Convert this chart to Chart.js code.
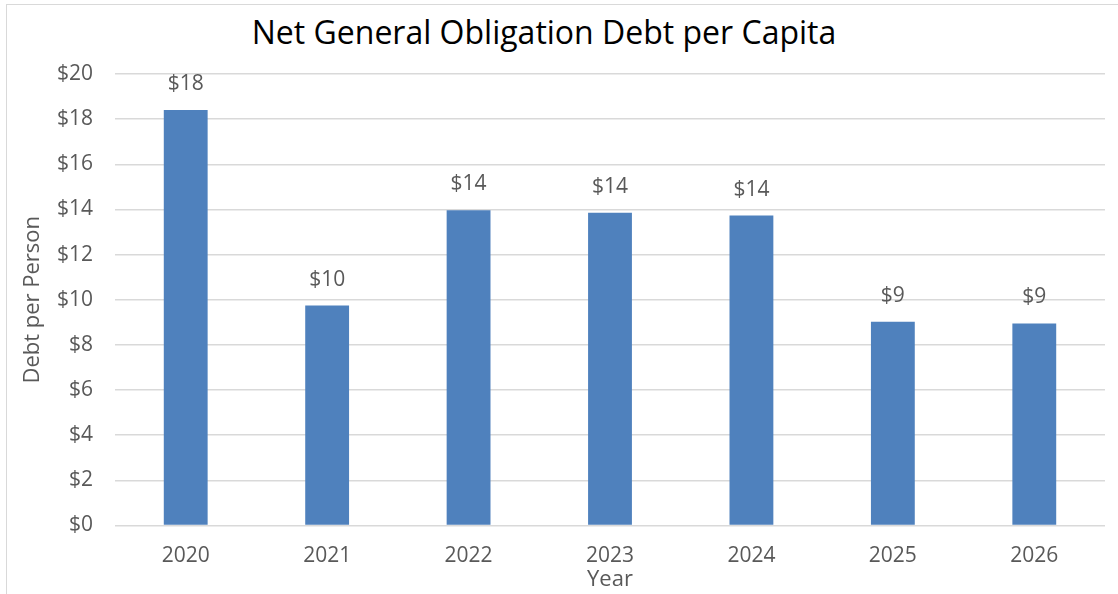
<!DOCTYPE html>
<html>
<head>
<meta charset="utf-8">
<script src="https://cdn.jsdelivr.net/npm/chart.js@4.4.1/dist/chart.umd.min.js"></script>
<style>
  html, body { margin: 0; padding: 0; background: #fff; }
  #wrap { position: relative; width: 1118px; height: 594px; overflow: hidden; }
  #frame { position: absolute; left: 6px; top: 4px; width: 1200px; height: 700px;
           border-left: 1.5px solid #d9d9d9; border-top: 1.5px solid #d9d9d9; }
  #title { position: absolute; left: 0; width: 1088px; top: 10px; text-align: center;
           font-family: "Open Sans", sans-serif; font-size: 32px; color: #000; }
  canvas { position: absolute; left: 0; top: 0; }
</style>
</head>
<body>
<div id="wrap">
  <div id="frame"></div>
  <div id="title">Net General Obligation Debt per Capita</div>
  <canvas id="myChart" width="1118" height="594"></canvas>
</div>
<script>
// Data
var years = ["2020", "2021", "2022", "2023", "2024", "2025", "2026"];
var debtPerPerson = [18.40, 9.74, 13.97, 13.85, 13.73, 9.03, 8.95];
var yTicks = [0, 2, 4, 6, 8, 10, 12, 14, 16, 18, 20];

var textColor = '#595959';
var fontFamily = '"Open Sans", sans-serif';

// draws "$18" etc above each bar
var barLabels = {
  id: 'barLabels',
  afterDatasetsDraw: function(chart) {
    var ctx = chart.ctx;
    var meta = chart.getDatasetMeta(0);
    ctx.save();
    ctx.font = '21px ' + fontFamily;
    ctx.fillStyle = textColor;
    ctx.textAlign = 'center';
    ctx.textBaseline = 'middle';
    meta.data.forEach(function(bar, i) {
      ctx.fillText('$' + Math.round(debtPerPerson[i]), bar.x, bar.y - 26);
    });
    ctx.restore();
  }
};

var ctx = document.getElementById('myChart').getContext('2d');

var myChart = new Chart(ctx, {
  type: 'bar',
  data: {
    labels: years,
    datasets: [{
      label: 'Debt per Person',
      data: debtPerPerson,
      backgroundColor: '#4f81bd',
      borderWidth: 0,
      barPercentage: 0.31,
      categoryPercentage: 1
    }]
  },
  options: {
    responsive: false,
    animation: false,
    layout: {
      padding: { top: 74, right: 13, bottom: 1, left: 0 }
    },
    plugins: {
      legend: { display: false },
      tooltip: { enabled: false }
    },
    scales: {
      x: {
        afterFit: function(scale) { scale.height = 67.5; },
        grid: { display: false, drawTicks: false },
        border: { display: false },
        ticks: { color: textColor, font: { family: fontFamily, size: 21 }, padding: 18 },
        title: {
          display: true,
          text: 'Year',
          color: textColor,
          font: { family: fontFamily, size: 22 },
          padding: { top: 0, bottom: 0 }
        }
      },
      y: {
        min: 0,
        max: 20,
        afterBuildTicks: function(scale) {
          scale.ticks = yTicks.map(function(v) { return { value: v }; });
        },
        afterFit: function(scale) { scale.width = 115; },
        grid: { color: '#d9d9d9', lineWidth: 1.5, drawTicks: false },
        border: { display: false },
        ticks: {
          color: textColor,
          font: { family: fontFamily, size: 21 },
          padding: 22,
          callback: function(v) { return '$' + v; }
        },
        title: {
          display: true,
          text: 'Debt per Person',
          color: textColor,
          font: { family: fontFamily, size: 22 },
          padding: { top: 20, bottom: 0 }
        }
      }
    }
  },
  plugins: [barLabels]
});
</script>
</body>
</html>
